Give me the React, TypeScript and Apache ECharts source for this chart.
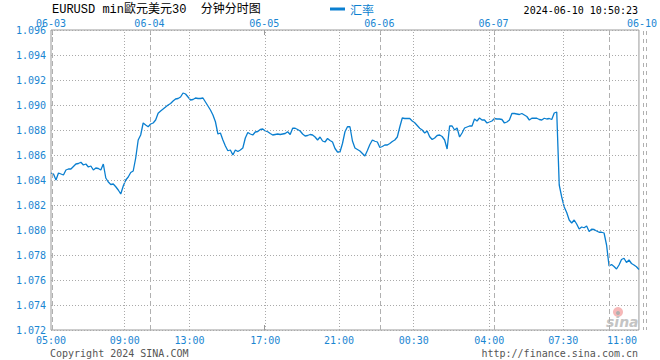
import React, { useEffect, useRef } from "react";
import * as echarts from "echarts";

// EUR/USD 30-minute bars, sampled left to right
const rates = [
  1.08456, 1.08448, 1.084, 1.08456, 1.08448, 1.0844, 1.0848, 1.08488, 1.08488, 1.08508,
  1.08528, 1.08532, 1.08542, 1.0852, 1.08528, 1.08504, 1.08512, 1.0848, 1.08496, 1.08492,
  1.0848, 1.08528, 1.08416, 1.08384, 1.08364, 1.08368, 1.08346, 1.0832, 1.08288, 1.08352,
  1.084, 1.08424, 1.0846, 1.08472, 1.08576, 1.0872, 1.0876, 1.08856, 1.0884, 1.08826,
  1.08848, 1.08856, 1.0888, 1.08934, 1.08952, 1.08968, 1.08984, 1.09, 1.09012, 1.09032,
  1.09048, 1.09052, 1.09064, 1.09096, 1.09088, 1.09064, 1.0904, 1.09044, 1.09056, 1.09052,
  1.09052, 1.09056, 1.09024, 1.08992, 1.0896, 1.0892, 1.08866, 1.08768, 1.08776, 1.0872,
  1.08672, 1.08634, 1.0864, 1.086, 1.0864, 1.08628, 1.0864, 1.08656, 1.08736, 1.0878,
  1.08768, 1.0876, 1.08784, 1.08788, 1.08804, 1.08808, 1.08792, 1.08786, 1.08772, 1.0876,
  1.08764, 1.08768, 1.08764, 1.08768, 1.08772, 1.08786, 1.08764, 1.08814, 1.08814, 1.08804,
  1.08792, 1.08768, 1.08752, 1.08756, 1.08764, 1.0876, 1.08744, 1.0872, 1.08744, 1.08712,
  1.08704, 1.08732, 1.08716, 1.08704, 1.08652, 1.08624, 1.08624, 1.08692, 1.08786, 1.08826,
  1.08826, 1.08712, 1.08656, 1.08644, 1.08632, 1.08612, 1.08592, 1.08636, 1.08684, 1.0872,
  1.0871, 1.08704, 1.0866, 1.08668, 1.0868, 1.0868, 1.08692, 1.08708, 1.0872, 1.08744,
  1.08824, 1.08896, 1.08892, 1.08892, 1.08892, 1.08872, 1.08858, 1.08836, 1.08814, 1.088,
  1.08776, 1.08792, 1.08746, 1.08724, 1.08736, 1.08756, 1.0876, 1.08748, 1.0872, 1.08648,
  1.08832, 1.08832, 1.088, 1.08816, 1.08744, 1.08776, 1.08816, 1.08824, 1.08832, 1.08832,
  1.08888, 1.08872, 1.08896, 1.0888, 1.0888, 1.08856, 1.08864, 1.08872, 1.08892, 1.08888,
  1.08888, 1.08884, 1.08856, 1.08864, 1.0888, 1.08932, 1.08932, 1.08928, 1.08924, 1.08932,
  1.0892, 1.08908, 1.0888, 1.08894, 1.08894, 1.08894, 1.08884, 1.0888, 1.08894, 1.08888,
  1.08892, 1.08884, 1.08936, 1.08944, 1.0836, 1.08264, 1.08184, 1.0814, 1.0808, 1.08056,
  1.0808, 1.08048, 1.08008, 1.08024, 1.08018, 1.08032, 1.07988, 1.08006, 1.08004, 1.07992,
  1.07982, 1.07982, 1.07976, 1.0788, 1.07712, 1.07724, 1.07708, 1.07688, 1.0772, 1.07764,
  1.07774, 1.0774, 1.0776, 1.07732, 1.0772, 1.07706, 1.07684,
];

// bottom time tick labels and their positions (bar index)
const timeLabels = ["05:00", "09:00", "13:00", "17:00", "21:00", "00:30", "04:00", "07:30", "11:00"];
const timePos = [0, 29.6, 55.6, 86, 115.6, 145.6, 175.9, 205.6, 236];
// top date labels and day boundaries (bar index)
const dateLabels = ["06-03", "06-04", "06-05", "06-06", "06-07", "06-10"];
const dateLabelPos = [0, 39.5, 85.6, 131.8, 177.6, 236];
const dayLinePos = [0.6, 40, 85.6, 132, 178, 224];

const yTicks = { min: 1.072, max: 1.096, interval: 0.002 };

const BLUE = "#0a7fd0";
const LABEL_BLUE = "#1a86d2";
const MONO = "'DejaVu Sans Mono', monospace";

export default function App() {
  const ref = useRef<HTMLDivElement>(null);
  useEffect(() => {
    document.body.style.margin = "0";
    if (!ref.current) return;
    const chart = echarts.init(ref.current, undefined, { renderer: "svg" });
    const lastIdx = rates.length - 1;
    const dottedLines = timePos
      .filter((p) => p > 0 && p < lastIdx)
      .map((p) => ({ xAxis: p, lineStyle: { type: [1, 2], color: "#aaaaaa", width: 1 } }));
    const dashedLines = dayLinePos
      .filter((_, i) => i !== 2)
      .map((p) => ({ xAxis: p, lineStyle: { type: [5, 3], color: "#b0b0b0", width: 1 } }));

    chart.setOption({
      animation: false,
      backgroundColor: "#ffffff",
      grid: {
        left: 51,
        right: 19,
        top: 30,
        bottom: 30,
        show: true,
        borderColor: "#9a9a9a",
        borderWidth: 1,
        backgroundColor: "transparent",
      },
      legend: {
        left: 330,
        top: 3,
        padding: 0,
        icon: "rect",
        itemWidth: 15,
        itemHeight: 3,
        itemGap: 5,
        textStyle: { color: BLUE, fontSize: 12, fontFamily: "'Noto Sans CJK SC', sans-serif" },
        data: ["汇率"],
      },
      xAxis: [
        {
          type: "value",
          min: 0,
          max: lastIdx,
          axisLine: { show: false },
          splitLine: { show: false },
          axisTick: {
            show: true,
            inside: true,
            length: 5,
            customValues: dayLinePos,
            lineStyle: { color: "#9a9a9a" },
          },
          axisLabel: {
            show: true,
            margin: 5,
            customValues: timePos,
            color: LABEL_BLUE,
            fontSize: 10,
            fontFamily: MONO,
            formatter: (v: number) => {
              const i = timePos.indexOf(v);
              if (i < 0) return "";
              if (i === timePos.length - 1) return "{r|" + timeLabels[i] + "}";
              return timeLabels[i];
            },
            rich: {
              r: { color: LABEL_BLUE, fontSize: 10, fontFamily: MONO, padding: [0, 34, 0, 0] },
            },
          },
        },
        {
          type: "value",
          position: "top",
          min: 0,
          max: lastIdx,
          axisLine: { show: false },
          splitLine: { show: false },
          axisTick: {
            show: true,
            inside: true,
            length: 5,
            customValues: dayLinePos,
            lineStyle: { color: "#9a9a9a" },
          },
          axisLabel: {
            show: true,
            margin: 2,
            customValues: dateLabelPos,
            color: LABEL_BLUE,
            fontSize: 10,
            fontFamily: MONO,
            formatter: (v: number) => {
              const i = dateLabelPos.indexOf(v);
              if (i < 0) return "";
              if (i === dateLabelPos.length - 1) return "{r|" + dateLabels[i] + "}";
              return dateLabels[i];
            },
            rich: {
              r: { color: LABEL_BLUE, fontSize: 10, fontFamily: MONO, padding: [0, 0, 0, 6] },
            },
          },
        },
      ],
      yAxis: {
        type: "value",
        min: yTicks.min,
        max: yTicks.max,
        interval: yTicks.interval,
        axisLine: { show: false },
        axisTick: { show: false },
        axisLabel: {
          margin: 5,
          color: LABEL_BLUE,
          fontSize: 10,
          fontFamily: MONO,
          formatter: (v: number) => v.toFixed(3),
        },
        splitLine: { show: true, lineStyle: { type: [1, 2], color: "#aaaaaa" } },
      },
      graphic: [
        {
          type: "text",
          left: 52,
          top: 4,
          style: {
            text: "EURUSD min歐元美元30  分钟分时图",
            fill: "#000000",
            fontSize: 12,
            fontFamily: "'Liberation Mono', 'Noto Sans CJK SC', monospace",
          },
        },
        {
          type: "text",
          right: 22,
          top: 5,
          style: { text: "2024-06-10 10:50:23", fill: "#000000", fontSize: 10, fontFamily: MONO },
        },
        {
          type: "text",
          left: 50,
          top: 348,
          style: { text: "Copyright 2024 SINA.COM", fill: "#555555", fontSize: 10, fontFamily: MONO },
        },
        {
          type: "text",
          right: 22,
          top: 348,
          style: { text: "http://finance.sina.com.cn", fill: "#555555", fontSize: 10, fontFamily: MONO },
        },
        {
          type: "line",
          shape: { x1: 643.5, y1: 31, x2: 643.5, y2: 330 },
          style: { stroke: "#b0b0b0", lineWidth: 1, lineDash: [4, 4] },
        },
        {
          type: "line",
          shape: { x1: 646.5, y1: 31, x2: 646.5, y2: 330 },
          style: { stroke: "#b0b0b0", lineWidth: 1, lineDash: [4, 4] },
        },
        {
          type: "circle",
          shape: { cx: 618, cy: 312, r: 5 },
          style: { fill: "#f6b8b8" },
        },
        {
          type: "circle",
          shape: { cx: 618, cy: 313, r: 2 },
          style: { fill: "#b0b0b0" },
        },
        {
          type: "text",
          x: 606,
          y: 315,
          style: {
            text: "sina",
            fill: "#c4c4c4",
            fontSize: 14,
            fontWeight: "bold",
            fontStyle: "italic",
            fontFamily: "'DejaVu Sans', sans-serif",
          },
        },
      ],
      series: [
        {
          name: "汇率",
          type: "line",
          xAxisIndex: 0,
          data: rates.map((v, i) => [i, v]),
          showSymbol: false,
          symbol: "none",
          lineStyle: { color: BLUE, width: 1.3 },
          itemStyle: { color: BLUE },
          markLine: {
            silent: true,
            symbol: ["none", "none"],
            label: { show: false },
            data: [...dottedLines, ...dashedLines],
          },
        },
      ],
    });
    return () => chart.dispose();
  }, []);
  return <div ref={ref} style={{ width: 660, height: 360 }} />;
}
